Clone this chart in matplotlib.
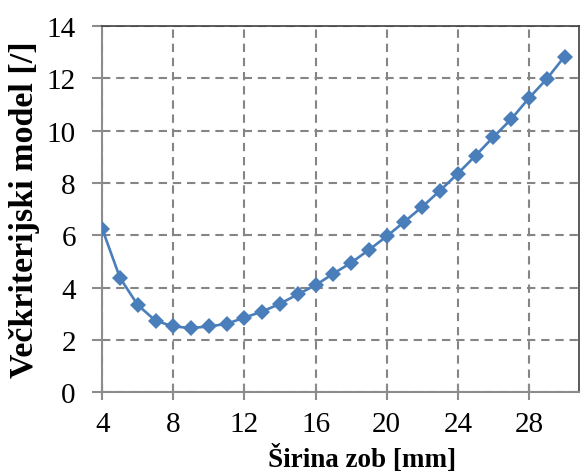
import matplotlib
matplotlib.use("Agg")
import matplotlib.pyplot as plt

# data
sirina = [4, 5, 6, 7, 8, 9, 10, 11, 12, 13, 14, 15, 16, 17,
          18, 19, 20, 21, 22, 23, 24, 25, 26, 27, 28, 29, 30]
model = [6.25, 4.37, 3.33, 2.73, 2.51, 2.45, 2.51, 2.61, 2.85, 3.08, 3.38, 3.74, 4.09, 4.53,
         4.95, 5.44, 5.96, 6.52, 7.09, 7.71, 8.36, 9.05, 9.76, 10.44, 11.25, 11.98, 12.84]
x_ticks = [4, 8, 12, 16, 20, 24, 28]
y_ticks = [0, 2, 4, 6, 8, 10, 12, 14]

plt.rcParams["font.family"] = ["Liberation Serif", "DejaVu Serif"]

fig = plt.figure(figsize=(5.84, 4.77), dpi=100)
ax = fig.add_axes([0.175, 0.176, 0.816, 0.767])

ax.plot(sirina, model, "-", color="#4a7ebb", linewidth=1.9,
        marker="D", markersize=8.5, markeredgewidth=0, zorder=3)

ax.set_xlim(4, 30.8)
ax.set_ylim(0, 14)
ax.set_xticks(x_ticks)
ax.set_yticks(y_ticks)

ax.grid(True, linestyle=(0, (4, 2.8)), color="#858585", linewidth=1.5)
ax.set_axisbelow(True)

for side in ["left", "bottom"]:
    ax.spines[side].set_color("#8c8c8c")
    ax.spines[side].set_linewidth(1.5)
for side in ["top", "right"]:
    ax.spines[side].set_color("#404040")
    ax.spines[side].set_linewidth(1.2)

ax.tick_params(axis="y", direction="out", length=7, width=1.5, color="#8c8c8c",
               labelsize=21, pad=12)
ax.tick_params(axis="x", direction="inout", length=12, width=1.5, color="#8c8c8c",
               labelsize=21, pad=8)

ax.set_xlabel("Širina zob [mm]", fontsize=19.5, fontweight="bold", labelpad=5)
ax.xaxis.label.set_x(0.545)
ax.set_ylabel("Večkriterijski model [/]", fontsize=24.5, fontweight="bold", labelpad=5)

plt.savefig("out.png", dpi=100)
